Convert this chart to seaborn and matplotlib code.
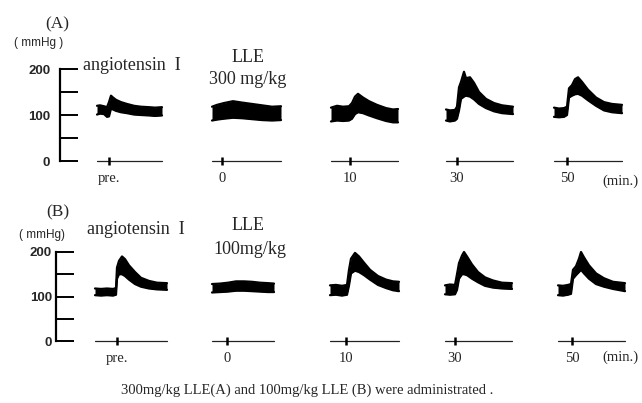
import numpy as np
import matplotlib
matplotlib.use("Agg")
import matplotlib.pyplot as plt
import seaborn as sns

# time labels of the five recordings
time_labels = ["pre.", "0", "10", "30", "50"]

# panel A (300 mg/kg): pulse-pressure envelope per recording, t in s from trace start
a_t = [
    [0, 3, 7, 10, 12, 14, 16, 19, 24, 30, 37, 44, 52, 58, 65],
    [0, 5, 12, 21, 30, 40, 50, 60, 69],
    [0, 6, 12, 18, 21, 24, 27, 32, 38, 46, 55, 62, 67],
    [0, 4, 9, 11, 13, 15, 18, 20, 24, 28, 33, 40, 48, 56, 67],
    [0, 5, 10, 13, 15, 18, 21, 24, 28, 34, 42, 50, 58, 68],
]
a_hi = [
    [120, 121, 119, 117, 128, 142, 138, 133, 128, 124, 120, 118, 117, 116, 117],
    [118, 122, 126, 130, 127, 124, 121, 118, 119],
    [116, 120, 118, 119, 126, 140, 146, 138, 130, 122, 115, 112, 113],
    [112, 110, 111, 118, 160, 172, 194, 180, 182, 170, 150, 135, 126, 121, 118],
    [116, 114, 115, 118, 158, 165, 178, 182, 172, 155, 138, 128, 124, 122],
]
a_lo = [
    [101, 103, 102, 96, 97, 114, 112, 109, 106, 104, 101, 100, 99, 98, 99],
    [88, 90, 92, 94, 93, 91, 89, 88, 89],
    [86, 88, 87, 88, 92, 102, 106, 104, 99, 93, 87, 84, 84],
    [88, 86, 88, 92, 110, 135, 140, 142, 140, 134, 124, 115, 108, 104, 102],
    [96, 95, 96, 100, 138, 142, 145, 146, 142, 132, 120, 110, 106, 104],
]
a_inject = [12, 10, 19, 11, 13]

# panel B (100 mg/kg)
b_t = [
    [0, 6, 12, 18, 21, 22, 24, 27, 30, 34, 40, 46, 54, 62, 72],
    [0, 8, 16, 24, 32, 40, 48, 56, 62],
    [0, 6, 12, 17, 19, 21, 25, 29, 34, 40, 48, 56, 63, 69],
    [0, 5, 10, 12, 14, 17, 19, 22, 27, 33, 40, 48, 57, 67],
    [0, 5, 10, 13, 15, 18, 21, 23, 26, 31, 38, 46, 55, 67],
]
b_hi = [
    [118, 117, 118, 117, 119, 165, 180, 190, 184, 170, 155, 142, 135, 131, 130],
    [128, 129, 131, 134, 134, 133, 131, 130, 129],
    [125, 126, 124, 126, 160, 185, 198, 190, 176, 160, 146, 138, 134, 133],
    [125, 127, 126, 150, 175, 192, 200, 190, 172, 155, 143, 136, 131, 130],
    [125, 124, 126, 128, 160, 168, 185, 200, 188, 170, 152, 141, 133, 130],
]
b_lo = [
    [103, 102, 103, 102, 104, 140, 150, 150, 146, 138, 128, 122, 118, 116, 115],
    [109, 110, 111, 113, 113, 112, 111, 110, 110],
    [103, 104, 102, 104, 125, 152, 158, 155, 148, 138, 126, 119, 114, 112],
    [105, 104, 105, 115, 140, 150, 150, 148, 140, 132, 124, 120, 118, 117],
    [103, 102, 104, 106, 140, 148, 155, 160, 152, 140, 128, 122, 117, 112],
]
b_inject = [22, 15, 16, 10, 14]

# layout (pixels)
W, H = 642, 403
SERIF = ["Liberation Serif", "DejaVu Serif"]
SANS = ["Liberation Sans", "DejaVu Sans"]

sns.set_style("white")
plt.rcParams["font.family"] = SERIF

fig = plt.figure(figsize=(W / 100, H / 100), dpi=100)


def panel(spine_x, y0, y200, starts, ts, his, los, inject, ylab_pad):
    ax = fig.add_axes([spine_x / W, (H - y0) / H, (W - spine_x) / W, (y0 - y200) / H])
    ax.set_xlim(0, W - spine_x)
    ax.set_ylim(0, 200)
    for i in range(5):
        x = np.array(ts[i]) + starts[i]
        ax.fill_between(x, los[i], his[i], color="black", lw=0, clip_on=False)
        sns.lineplot(x=x, y=his[i], ax=ax, color="black", lw=1.6, clip_on=False)
        sns.lineplot(x=x, y=los[i], ax=ax, color="black", lw=1.6, clip_on=False)
        # event line with injection mark
        ax.plot([x[0], x[-1]], [0, 0], color="#222222", lw=0.9, clip_on=False)
        ax.plot([starts[i] + inject[i]], [0], marker="|", ms=6, mew=1.8,
                color="black", clip_on=False)
    ax.set_xticks([starts[i] + inject[i] for i in range(5)])
    ax.set_xticklabels(time_labels, fontsize=10.5)
    ax.tick_params(axis="x", length=0, pad=8)
    ax.set_yticks([0, 100, 200])
    ax.set_yticks([50, 150], minor=True)
    ax.set_yticklabels(["0", "100", "200"], fontfamily=SANS, fontsize=9.5,
                       fontweight="bold")
    ax.tick_params(axis="y", which="both", direction="in", length=13, width=1.4,
                   color="black", pad=ylab_pad, left=True)
    for s in ["top", "right", "bottom"]:
        ax.spines[s].set_visible(False)
    ax.spines["left"].set_linewidth(1.6)
    ax.spines["left"].set_color("black")
    ax.set_xlabel("")
    ax.set_ylabel("")
    ax.patch.set_alpha(0)
    return ax


panel(60, 161, 69, [37, 152, 271, 386, 494], a_t, a_hi, a_lo, a_inject, 7)
panel(56, 341, 252, [39, 156, 274, 389, 502], b_t, b_hi, b_lo, b_inject, 3)


def txt(x, y, s, size, ha="center", family=SERIF):
    fig.text(x / W, 1 - y / H, s, ha=ha, va="center", fontsize=size, family=family)


txt(57, 24, "(A)", 12.5)
txt(39, 43, "( mmHg )", 8.5, family=SANS)
txt(83, 65, "angiotensin  I", 13, ha="left")
txt(248, 57, "LLE", 13)
txt(248, 79, "300 mg/kg", 13)
txt(620, 181, "(min.)", 10.5)

txt(58, 212, "(B)", 12.5)
txt(42, 235, "( mmHg)", 8.5, family=SANS)
txt(87, 230, "angiotensin  I", 13, ha="left")
txt(248, 225, "LLE", 13)
txt(250, 250, "100mg/kg", 13)
txt(620, 357, "(min.)", 10.5)

txt(307, 390, "300mg/kg LLE(A) and 100mg/kg LLE (B) were administrated .", 10.5)

fig.savefig("out.png", dpi=100)
